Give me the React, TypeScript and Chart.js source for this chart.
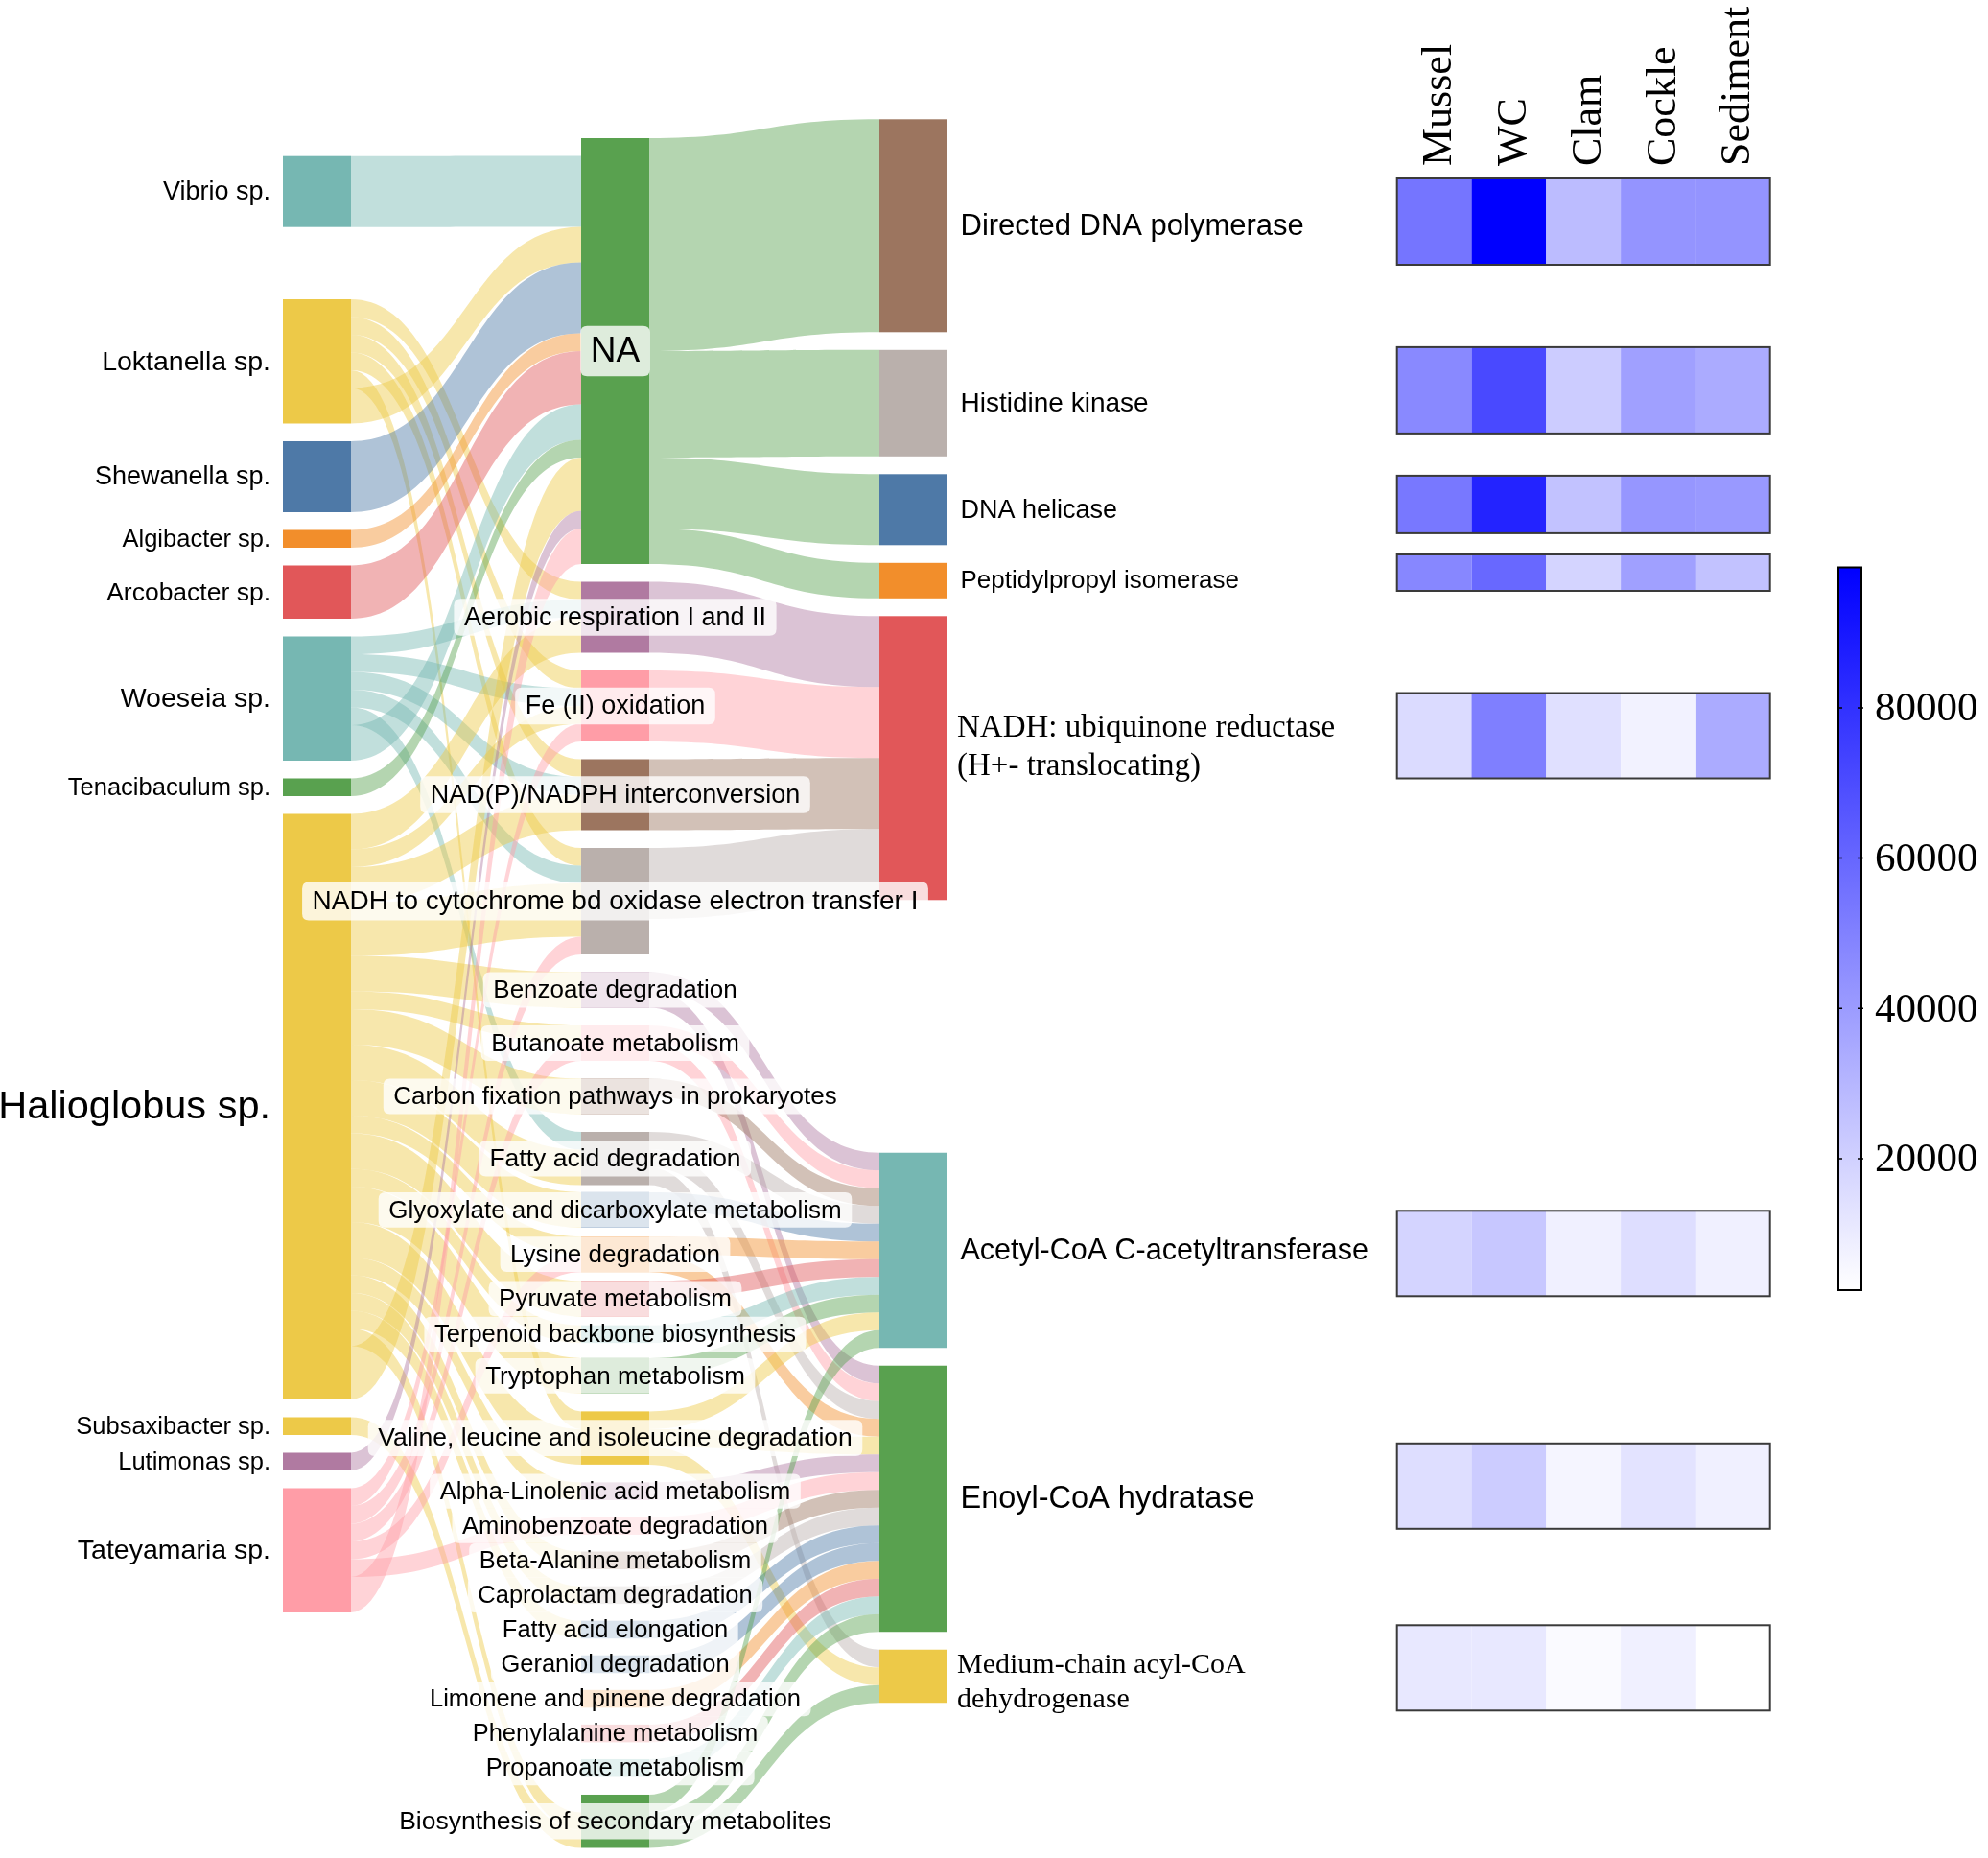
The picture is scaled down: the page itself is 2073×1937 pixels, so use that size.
import React, { useEffect, useRef } from "react";
import { Chart, registerables } from "chart.js";

Chart.register(...registerables);

// ------------------------------------------------------------------ data
const TAXA = [
  "Vibrio sp.", "Loktanella sp.", "Shewanella sp.", "Algibacter sp.", "Arcobacter sp.",
  "Woeseia sp.", "Tenacibaculum sp.", "Halioglobus sp.", "Subsaxibacter sp.", "Lutimonas sp.", "Tateyamaria sp.",
];

const PATHWAYS = [
  "NA", "Aerobic respiration I and II", "Fe (II) oxidation", "NAD(P)/NADPH interconversion",
  "NADH to cytochrome bd oxidase electron transfer I", "Benzoate degradation", "Butanoate metabolism",
  "Carbon fixation pathways in prokaryotes", "Fatty acid degradation", "Glyoxylate and dicarboxylate metabolism",
  "Lysine degradation", "Pyruvate metabolism", "Terpenoid backbone biosynthesis", "Tryptophan metabolism",
  "Valine, leucine and isoleucine degradation", "Alpha-Linolenic acid metabolism", "Aminobenzoate degradation",
  "Beta-Alanine metabolism", "Caprolactam degradation", "Fatty acid elongation", "Geraniol degradation",
  "Limonene and pinene degradation", "Phenylalanine metabolism", "Propanoate metabolism",
  "Biosynthesis of secondary metabolites",
];

const ENZYMES = [
  "Directed DNA polymerase", "Histidine kinase", "DNA helicase", "Peptidylpropyl isomerase",
  "NADH: ubiquinone reductase\n(H+- translocating)", "Acetyl-CoA C-acetyltransferase",
  "Enoyl-CoA hydratase", "Medium-chain acyl-CoA\ndehydrogenase",
];

// taxon -> pathway flows [from, to, value]
const TAXON_TO_PATHWAY: [string, string, number][] = [
  ["Vibrio sp.", "NA", 4],
  ["Loktanella sp.", "Aerobic respiration I and II", 1],
  ["Loktanella sp.", "Fe (II) oxidation", 1],
  ["Loktanella sp.", "NAD(P)/NADPH interconversion", 1],
  ["Loktanella sp.", "NADH to cytochrome bd oxidase electron transfer I", 1],
  ["Loktanella sp.", "Valine, leucine and isoleucine degradation", 1],
  ["Loktanella sp.", "NA", 2],
  ["Shewanella sp.", "NA", 4],
  ["Algibacter sp.", "NA", 1],
  ["Arcobacter sp.", "NA", 3],
  ["Woeseia sp.", "Aerobic respiration I and II", 1],
  ["Woeseia sp.", "Fe (II) oxidation", 1],
  ["Woeseia sp.", "NAD(P)/NADPH interconversion", 1],
  ["Woeseia sp.", "NADH to cytochrome bd oxidase electron transfer I", 1],
  ["Woeseia sp.", "Fatty acid degradation", 1],
  ["Woeseia sp.", "NA", 2],
  ["Tenacibaculum sp.", "NA", 1],
  ["Halioglobus sp.", "Aerobic respiration I and II", 2],
  ["Halioglobus sp.", "Fe (II) oxidation", 1],
  ["Halioglobus sp.", "NAD(P)/NADPH interconversion", 2],
  ["Halioglobus sp.", "NADH to cytochrome bd oxidase electron transfer I", 3],
  ["Halioglobus sp.", "Benzoate degradation", 2],
  ["Halioglobus sp.", "Butanoate metabolism", 1],
  ["Halioglobus sp.", "Carbon fixation pathways in prokaryotes", 2],
  ["Halioglobus sp.", "Fatty acid degradation", 2],
  ["Halioglobus sp.", "Glyoxylate and dicarboxylate metabolism", 2],
  ["Halioglobus sp.", "Lysine degradation", 1],
  ["Halioglobus sp.", "Pyruvate metabolism", 2],
  ["Halioglobus sp.", "Terpenoid backbone biosynthesis", 1],
  ["Halioglobus sp.", "Tryptophan metabolism", 2],
  ["Halioglobus sp.", "Valine, leucine and isoleucine degradation", 2],
  ["Halioglobus sp.", "Alpha-Linolenic acid metabolism", 1],
  ["Halioglobus sp.", "Beta-Alanine metabolism", 1],
  ["Halioglobus sp.", "Caprolactam degradation", 1],
  ["Halioglobus sp.", "Fatty acid elongation", 1],
  ["Halioglobus sp.", "Biosynthesis of secondary metabolites", 1],
  ["Halioglobus sp.", "NA", 3],
  ["Subsaxibacter sp.", "Biosynthesis of secondary metabolites", 1],
  ["Lutimonas sp.", "NA", 1],
  ["Tateyamaria sp.", "Fe (II) oxidation", 1],
  ["Tateyamaria sp.", "NADH to cytochrome bd oxidase electron transfer I", 1],
  ["Tateyamaria sp.", "Butanoate metabolism", 1],
  ["Tateyamaria sp.", "Lysine degradation", 1],
  ["Tateyamaria sp.", "Aminobenzoate degradation", 1],
  ["Tateyamaria sp.", "NA", 2],
];

// pathway -> enzyme flows [from, to, value]
const PATHWAY_TO_ENZYME: [string, string, number][] = [
  ["NA", "Directed DNA polymerase", 12],
  ["NA", "Histidine kinase", 6],
  ["NA", "DNA helicase", 4],
  ["NA", "Peptidylpropyl isomerase", 2],
  ["Aerobic respiration I and II", "NADH: ubiquinone reductase\n(H+- translocating)", 4],
  ["Fe (II) oxidation", "NADH: ubiquinone reductase\n(H+- translocating)", 4],
  ["NAD(P)/NADPH interconversion", "NADH: ubiquinone reductase\n(H+- translocating)", 4],
  ["NADH to cytochrome bd oxidase electron transfer I", "NADH: ubiquinone reductase\n(H+- translocating)", 4],
  ["Benzoate degradation", "Acetyl-CoA C-acetyltransferase", 1],
  ["Benzoate degradation", "Enoyl-CoA hydratase", 1],
  ["Butanoate metabolism", "Acetyl-CoA C-acetyltransferase", 1],
  ["Butanoate metabolism", "Enoyl-CoA hydratase", 1],
  ["Carbon fixation pathways in prokaryotes", "Acetyl-CoA C-acetyltransferase", 1],
  ["Fatty acid degradation", "Acetyl-CoA C-acetyltransferase", 1],
  ["Fatty acid degradation", "Enoyl-CoA hydratase", 1],
  ["Fatty acid degradation", "Medium-chain acyl-CoA\ndehydrogenase", 1],
  ["Glyoxylate and dicarboxylate metabolism", "Acetyl-CoA C-acetyltransferase", 1],
  ["Lysine degradation", "Acetyl-CoA C-acetyltransferase", 1],
  ["Lysine degradation", "Enoyl-CoA hydratase", 1],
  ["Pyruvate metabolism", "Acetyl-CoA C-acetyltransferase", 1],
  ["Terpenoid backbone biosynthesis", "Acetyl-CoA C-acetyltransferase", 1],
  ["Tryptophan metabolism", "Acetyl-CoA C-acetyltransferase", 1],
  ["Valine, leucine and isoleucine degradation", "Acetyl-CoA C-acetyltransferase", 1],
  ["Valine, leucine and isoleucine degradation", "Enoyl-CoA hydratase", 1],
  ["Valine, leucine and isoleucine degradation", "Medium-chain acyl-CoA\ndehydrogenase", 1],
  ["Alpha-Linolenic acid metabolism", "Enoyl-CoA hydratase", 1],
  ["Aminobenzoate degradation", "Enoyl-CoA hydratase", 1],
  ["Beta-Alanine metabolism", "Enoyl-CoA hydratase", 1],
  ["Caprolactam degradation", "Enoyl-CoA hydratase", 1],
  ["Fatty acid elongation", "Enoyl-CoA hydratase", 1],
  ["Geraniol degradation", "Enoyl-CoA hydratase", 1],
  ["Limonene and pinene degradation", "Enoyl-CoA hydratase", 1],
  ["Phenylalanine metabolism", "Enoyl-CoA hydratase", 1],
  ["Propanoate metabolism", "Enoyl-CoA hydratase", 1],
  ["Biosynthesis of secondary metabolites", "Acetyl-CoA C-acetyltransferase", 1],
  ["Biosynthesis of secondary metabolites", "Enoyl-CoA hydratase", 1],
  ["Biosynthesis of secondary metabolites", "Medium-chain acyl-CoA\ndehydrogenase", 1],
];

const SITES = ["Mussel", "WC", "Clam", "Cockle", "Sediment"];
// abundance per enzyme row (order of ENZYMES), columns in order of SITES
const HEAT_VALUES: number[][] = [
  [54600, 98700, 27600, 43000, 43000],
  [46900, 71000, 21800, 38200, 34300],
  [53600, 85500, 25700, 42100, 41100],
  [47900, 59400, 18900, 38200, 25700],
  [16000, 50700, 14100, 7300, 34300],
  [18900, 23700, 8300, 15000, 8300],
  [15000, 21800, 6400, 13100, 8300],
  [11200, 11200, 4400, 8300, 2500],
];
const COLORBAR_TICKS = [20000, 40000, 60000, 80000];
const Z_MIN = 2500;
const Z_MAX = 98700;

// ------------------------------------------------------------------ styles / layout
const W = 2073;
const H = 1937;
const T10 = {
  blue: "#4e79a7", orange: "#f28e2b", red: "#e15759", teal: "#76b7b2", green: "#59a14f",
  yellow: "#edc948", purple: "#b07aa1", pink: "#ff9da7", brown: "#9c755f", gray: "#bab0ac",
};
const TAXON_COLORS = [T10.teal, T10.yellow, T10.blue, T10.orange, T10.red, T10.teal, T10.green, T10.yellow, T10.yellow, T10.purple, T10.pink];
const PATHWAY_COLORS = [
  T10.green, T10.purple, T10.pink, T10.brown, T10.gray, T10.purple, T10.pink, T10.brown, T10.gray, T10.blue,
  T10.orange, T10.red, T10.teal, T10.green, T10.yellow, T10.purple, T10.pink, T10.brown, T10.gray, T10.blue,
  T10.blue, T10.orange, T10.red, T10.teal, T10.green,
];
const ENZYME_COLORS = [T10.brown, T10.gray, T10.blue, T10.orange, T10.red, T10.teal, T10.green, T10.yellow];

const COL_LEFT = [295, 606, 917];
const NODE_W = 71;
const COL_TOP = [162.7, 144, 124.3];
const UNIT = 18.5; // figure px per flow unit
const GAP_BEFORE: Record<string, number> = {
  "Loktanella sp.": 4.07,
  "Glyoxylate and dicarboxylate metabolism": 0.4,
  "Lysine degradation": 0.5,
  "Pyruvate metabolism": 0.5,
  "Terpenoid backbone biosynthesis": 0.5,
  "Tryptophan metabolism": 0.85,
  "Aminobenzoate degradation": 0.95,
  "Beta-Alanine metabolism": 0.95,
  "Caprolactam degradation": 0.95,
  "Fatty acid elongation": 0.95,
  "Geraniol degradation": 0.95,
  "Limonene and pinene degradation": 0.95,
  "Phenylalanine metabolism": 0.95,
  "Propanoate metabolism": 0.95,
  "Acetyl-CoA C-acetyltransferase": 14.24,
};
const LINK_ALPHA = 0.45;
const SANS = '"Liberation Sans", Arial, Helvetica, sans-serif';
const SERIF = '"Liberation Serif", "Times New Roman", Times, serif';
const SERIF_LABELS: Record<string, { size: number; lineH: number; dy: number }> = {
  "NADH: ubiquinone reductase\n(H+- translocating)": { size: 33, lineH: 40.5, dy: -11 },
  "Medium-chain acyl-CoA\ndehydrogenase": { size: 30, lineH: 36, dy: 7 },
};

const HEAT_LEFT = 1456.7;
const HEAT_RIGHT = 1845.7;
const HEAT_ROW_SHIFT = [-4.3, -13.4, -5.4, -8.3, -23.3, 3.3, -13.2, -8.7];
const HEAT_ROW_H = [90, 90, 60, 38, 89, 89, 89, 89];
const SITE_LABEL_BOTTOM = 173;
const SITE_FONT = 44;
const CB_X0 = 1917;
const CB_X1 = 1941;
const CB_TOP = 591.5;
const CB_BOTTOM = 1345;

// ------------------------------------------------------------------ helpers
type SNode = {
  name: string; col: number; color: string; inV: number; outV: number; size: number;
  x0: number; x1: number; y0: number; y1: number; outs: SLink[]; ins: SLink[];
};
type SLink = { s: SNode; t: SNode; v: number; sy0: number; sy1: number; ty0: number; ty1: number };

function labelSize(v: number) {
  return 25 + 0.5 * v;
}

function rgba(hex: string, a: number) {
  const n = parseInt(hex.slice(1), 16);
  return `rgba(${(n >> 16) & 255},${(n >> 8) & 255},${n & 255},${a})`;
}

function heatColor(v: number) {
  const t = Math.max(0, Math.min(1, (v - Z_MIN) / (Z_MAX - Z_MIN)));
  const c = Math.round(255 * (1 - t));
  return `rgb(${c},${c},255)`;
}

function buildSankey() {
  const cols = [TAXA, PATHWAYS, ENZYMES];
  const colors = [TAXON_COLORS, PATHWAY_COLORS, ENZYME_COLORS];
  const nodes = new Map<string, SNode>();
  cols.forEach((names, c) =>
    names.forEach((name, i) =>
      nodes.set(name, {
        name, col: c, color: colors[c][i], inV: 0, outV: 0, size: 0,
        x0: COL_LEFT[c], x1: COL_LEFT[c] + NODE_W, y0: 0, y1: 0, outs: [], ins: [],
      })
    )
  );
  const links: SLink[] = [...TAXON_TO_PATHWAY, ...PATHWAY_TO_ENZYME].map(([s, t, v]) => ({
    s: nodes.get(s)!, t: nodes.get(t)!, v, sy0: 0, sy1: 0, ty0: 0, ty1: 0,
  }));
  links.forEach((l) => {
    l.s.outV += l.v; l.t.inV += l.v; l.s.outs.push(l); l.t.ins.push(l);
  });
  cols.forEach((names, c) => {
    let y = COL_TOP[c];
    names.forEach((name, i) => {
      const n = nodes.get(name)!;
      if (i > 0) y += (GAP_BEFORE[name] ?? 1) * UNIT;
      n.size = Math.max(n.inV, n.outV);
      n.y0 = y;
      y += n.size * UNIT;
      n.y1 = y;
    });
  });
  nodes.forEach((n) => {
    const key = (m: SNode) => (n.col === 0 && m.name === "NA" ? 1e9 : m.y0);
    const outs = [...n.outs].sort((a, b) => key(a.t) - key(b.t));
    let y = n.y0;
    outs.forEach((l) => { l.sy0 = y; y += l.v * UNIT; l.sy1 = y; });
    const ins = [...n.ins].sort((a, b) => a.s.y0 - b.s.y0);
    let y2 = n.y1 - n.inV * UNIT;
    ins.forEach((l) => { l.ty0 = y2; y2 += l.v * UNIT; l.ty1 = y2; });
  });
  return { nodes, links, cols };
}

function roundRect(ctx: CanvasRenderingContext2D, x: number, y: number, w: number, h: number, r: number) {
  ctx.beginPath();
  ctx.moveTo(x + r, y);
  ctx.lineTo(x + w - r, y);
  ctx.quadraticCurveTo(x + w, y, x + w, y + r);
  ctx.lineTo(x + w, y + h - r);
  ctx.quadraticCurveTo(x + w, y + h, x + w - r, y + h);
  ctx.lineTo(x + r, y + h);
  ctx.quadraticCurveTo(x, y + h, x, y + h - r);
  ctx.lineTo(x, y + r);
  ctx.quadraticCurveTo(x, y, x + r, y);
  ctx.closePath();
}

const figurePlugin = {
  id: "sankeyHeatmap",
  afterDraw(chart: any) {
    const ctx: CanvasRenderingContext2D = chart.ctx;
    const xs = chart.scales.x;
    const ys = chart.scales.y;
    const X = (v: number) => xs.getPixelForValue(v);
    const Y = (v: number) => ys.getPixelForValue(v);
    const { nodes, links, cols } = buildSankey();

    ctx.save();
    // links
    links.forEach((l) => {
      const x0 = X(l.s.x1), x1 = X(l.t.x0), xm = (x0 + x1) / 2;
      ctx.beginPath();
      ctx.moveTo(x0, Y(l.sy0));
      ctx.bezierCurveTo(xm, Y(l.sy0), xm, Y(l.ty0), x1, Y(l.ty0));
      ctx.lineTo(x1, Y(l.ty1));
      ctx.bezierCurveTo(xm, Y(l.ty1), xm, Y(l.sy1), x0, Y(l.sy1));
      ctx.closePath();
      ctx.fillStyle = rgba(l.s.color, LINK_ALPHA);
      ctx.fill();
    });
    // nodes
    nodes.forEach((n) => {
      if (n.size <= 0) return;
      ctx.fillStyle = n.color;
      ctx.fillRect(X(n.x0), Y(n.y0), X(n.x1) - X(n.x0), Y(n.y1) - Y(n.y0));
    });

    ctx.fillStyle = "#000";
    // left labels
    cols[0].forEach((name) => {
      const n = nodes.get(name)!;
      ctx.font = `${labelSize(n.size)}px ${SANS}`;
      ctx.textAlign = "right";
      ctx.textBaseline = "middle";
      ctx.fillStyle = "#000";
      ctx.fillText(name, X(n.x0 - 13), Y((n.y0 + n.y1) / 2) + 1);
    });
    // middle labels with boxes
    cols[1].forEach((name) => {
      const n = nodes.get(name)!;
      const fs = labelSize(n.size);
      ctx.font = `${fs}px ${SANS}`;
      const tw = ctx.measureText(name).width;
      const cx = X((n.x0 + n.x1) / 2), cy = Y((n.y0 + n.y1) / 2);
      const bw = tw + 21, bh = fs * 1.42;
      roundRect(ctx, cx - bw / 2, cy - bh / 2, bw, bh, 7);
      ctx.fillStyle = "rgba(255,255,255,0.8)";
      ctx.fill();
      ctx.fillStyle = "#000";
      ctx.textAlign = "center";
      ctx.textBaseline = "middle";
      ctx.fillText(name, cx, cy + 1);
    });
    // right labels
    cols[2].forEach((name) => {
      const n = nodes.get(name)!;
      const cy = (n.y0 + n.y1) / 2;
      ctx.fillStyle = "#000";
      ctx.textAlign = "left";
      ctx.textBaseline = "middle";
      const serif = SERIF_LABELS[name];
      if (serif) {
        ctx.font = `${serif.size}px ${SERIF}`;
        const lines = name.split("\n");
        lines.forEach((line, i) => {
          const ly = cy + serif.dy + (i - (lines.length - 1) / 2) * serif.lineH;
          ctx.fillText(line, X(n.x1 + 10), Y(ly));
        });
      } else {
        ctx.font = `${labelSize(n.size)}px ${SANS}`;
        ctx.fillText(name, X(n.x1 + 13.5), Y(cy) + 1);
      }
    });

    // heatmap
    const colW = (HEAT_RIGHT - HEAT_LEFT) / SITES.length;
    ENZYMES.forEach((name, r) => {
      const n = nodes.get(name)!;
      const cy = (n.y0 + n.y1) / 2 + HEAT_ROW_SHIFT[r];
      const h = HEAT_ROW_H[r];
      const top = Y(cy - h / 2), bot = Y(cy + h / 2);
      HEAT_VALUES[r].forEach((v, c) => {
        const l = X(HEAT_LEFT + c * colW), rr = X(HEAT_LEFT + (c + 1) * colW);
        ctx.fillStyle = heatColor(v);
        ctx.fillRect(l, top, rr - l, bot - top);
      });
      ctx.strokeStyle = "#3a3a3a";
      ctx.lineWidth = 2;
      ctx.strokeRect(X(HEAT_LEFT), top, X(HEAT_RIGHT) - X(HEAT_LEFT), bot - top);
    });
    // site labels (rotated)
    ctx.font = `${SITE_FONT}px ${SERIF}`;
    ctx.fillStyle = "#000";
    SITES.forEach((s, c) => {
      const cx = X(HEAT_LEFT + (c + 0.5) * colW + 6);
      ctx.save();
      ctx.translate(cx, Y(SITE_LABEL_BOTTOM));
      ctx.rotate(-Math.PI / 2);
      ctx.textAlign = "left";
      ctx.textBaseline = "middle";
      ctx.fillText(s, 0, 0);
      ctx.restore();
    });

    // colorbar
    const zToY = (z: number) => CB_BOTTOM - ((z - Z_MIN) / (Z_MAX - Z_MIN)) * (CB_BOTTOM - CB_TOP);
    const grad = ctx.createLinearGradient(0, Y(CB_BOTTOM), 0, Y(CB_TOP));
    grad.addColorStop(0, heatColor(Z_MIN));
    grad.addColorStop(1, heatColor(Z_MAX));
    ctx.fillStyle = grad;
    ctx.fillRect(X(CB_X0), Y(CB_TOP), X(CB_X1) - X(CB_X0), Y(CB_BOTTOM) - Y(CB_TOP));
    ctx.strokeStyle = "#000";
    ctx.lineWidth = 2;
    ctx.strokeRect(X(CB_X0), Y(CB_TOP), X(CB_X1) - X(CB_X0), Y(CB_BOTTOM) - Y(CB_TOP));
    ctx.lineWidth = 1.5;
    ctx.font = `43px ${SERIF}`;
    ctx.textAlign = "left";
    ctx.textBaseline = "middle";
    COLORBAR_TICKS.forEach((t) => {
      const ty = Y(zToY(t));
      ctx.beginPath();
      ctx.moveTo(X(CB_X0), ty);
      ctx.lineTo(X(CB_X0 + 4), ty);
      ctx.moveTo(X(CB_X1 - 4), ty);
      ctx.lineTo(X(CB_X1 + 2), ty);
      ctx.stroke();
      ctx.fillStyle = "#000";
      ctx.fillText(String(t), X(CB_X1 + 14), ty + 2);
    });
    ctx.restore();
  },
};

export default function App() {
  const ref = useRef<HTMLCanvasElement>(null);
  useEffect(() => {
    document.body.style.margin = "0";
    document.body.style.overflow = "hidden";
    const canvas = ref.current!;
    const chart = new Chart(canvas, {
      type: "scatter",
      data: { datasets: [{ data: [] }] },
      options: {
        animation: false,
        responsive: false,
        maintainAspectRatio: false,
        devicePixelRatio: 1,
        layout: { padding: 0 },
        plugins: { legend: { display: false }, tooltip: { enabled: false } },
        scales: {
          x: { type: "linear", min: 0, max: W, display: false },
          y: { type: "linear", min: 0, max: H, reverse: true, display: false },
        },
      },
      plugins: [figurePlugin],
    });
    return () => chart.destroy();
  }, []);
  return <canvas ref={ref} width={W} height={H} style={{ display: "block", width: W, height: H }} />;
}
